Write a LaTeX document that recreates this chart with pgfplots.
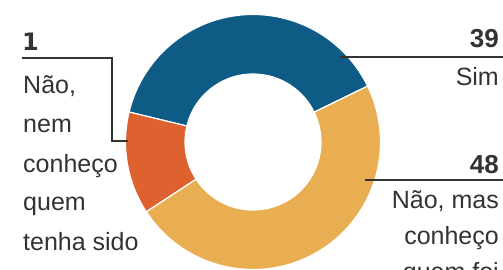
\documentclass[border=0pt]{standalone}
\usepackage{fontspec}
\setmainfont{Liberation Sans}
\newfontfamily\numfont{DejaVu Sans}
\usepackage{pgfplots}
\pgfplotsset{compat=1.18}
\usepackage{pgfplotstable}
\definecolor{cBlue}{HTML}{0E5B85}
\definecolor{cRed}{HTML}{DD6230}
\definecolor{cYel}{HTML}{E9AE52}
\definecolor{txt}{HTML}{333333}

\pgfplotstableread{
idx value
0 39
1 13
2 48
}\donutdata

\begin{document}
\begin{tikzpicture}
\clip (0,0) rectangle (503pt,269pt);
\begin{axis}[scale only axis, width=503pt, height=269pt,
  xmin=0, xmax=503, ymin=0, ymax=269, hide axis, clip=false]
\xdef\startangle{26}
\foreach \i/\col in {0/cBlue,1/cRed,2/cYel}{
  \pgfplotstablegetelem{\i}{value}\of\donutdata
  \pgfmathsetmacro\endangle{\startangle+3.6*\pgfplotsretval}
  \pgfmathsetmacro\backangle{\endangle+180}
  \edef\temp{\noexpand\fill[\col,draw=white,line width=1.2pt] (axis cs:253,127) ++(\startangle:127.5pt) arc[start angle=\startangle,end angle=\endangle,radius=127.5pt] -- ++(\backangle:59.5pt) arc[start angle=\endangle,end angle=\startangle,radius=68pt] -- cycle;}
  \temp
  \xdef\startangle{\endangle}
}
% leader lines
\draw[txt, line width=1.2pt] (axis cs:340,212) -- (axis cs:503,212);
\draw[txt, line width=1.2pt] (axis cs:365,89) -- (axis cs:503,89);
\draw[txt, line width=1.2pt] (axis cs:22,211) -- (axis cs:112,211) -- (axis cs:112,128) -- (axis cs:128,128);
% right labels
\begin{scope}[every node/.style={inner sep=0pt, text=txt, anchor=base east, font=\fontsize{25}{25}\selectfont}]
\node[font=\bfseries\fontsize{26}{26}\selectfont] at (axis cs:499,222) {39};
\node at (axis cs:499,184) {Sim};
\node[font=\bfseries\fontsize{26}{26}\selectfont] at (axis cs:499,96) {48};
\node at (axis cs:499,61) {Não, mas};
\node at (axis cs:499,25) {conheço};
\node at (axis cs:499,-11) {quem foi};
\end{scope}
% left labels
\begin{scope}[every node/.style={inner sep=0pt, text=txt, anchor=base west, font=\fontsize{25}{25}\selectfont}]
\node[font=\numfont\bfseries\fontsize{24}{24}\selectfont] at (axis cs:22,219) {1};
\node at (axis cs:23,176) {Não,};
\node at (axis cs:23,137) {nem};
\node at (axis cs:23,97) {conheço};
\node at (axis cs:23,59) {quem};
\node at (axis cs:23,19) {tenha sido};
\end{scope}
\end{axis}
\end{tikzpicture}
\end{document}
